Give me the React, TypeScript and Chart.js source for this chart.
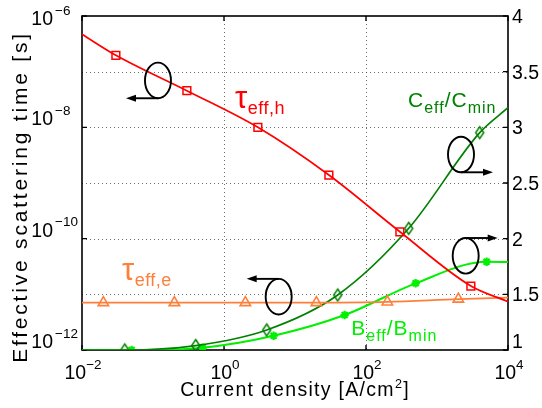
import React, { useEffect, useRef } from 'react';
import { Chart, registerables } from 'chart.js';
Chart.register(...registerables);

// ---- axis extents & ticks ----
const xRange = [1e-2, 1e4];
const leftRange = [1e-12, 1e-6];
const rightRange = [1, 4];
const xTickExponents = [-2, 0, 2, 4];
const leftTickExponents = [-12, -10, -8, -6];
const rightTickValues = [1, 1.5, 2, 2.5, 3, 3.5, 4];
const rightTickLabels = ['1', '1.5', '2', '2.5', '3', '3.5', '4'];
const xTitle = ['Current density [A/cm', '2', ']'];
const yTitle = 'Effective scattering time [s]';

// ---- tau_eff,h (left axis) ----
const tauHX = [0.01, 0.03, 0.3, 3, 30, 300, 3000, 10000];
const tauHY = [4.7e-7, 1.97e-7, 4.55e-8, 1.0e-8, 1.39e-9, 1.33e-10, 1.41e-11, 7.4e-12];
const tauHMark = [0, 1, 1, 1, 1, 1, 1, 0];

// ---- tau_eff,e (left axis) ----
const tauEX = [0.01, 0.02, 0.2, 2, 20, 200, 2000, 10000];
const tauEY = [7.1e-12, 7.1e-12, 7.1e-12, 7.1e-12, 7.1e-12, 7.3e-12, 8.2e-12, 8.7e-12];
const tauEMark = [0, 1, 1, 1, 1, 1, 1, 0];

// ---- C_eff/C_min (right axis) ----
const cRatioX = [0.01, 0.04, 0.4, 4, 40, 400, 4000, 10000];
const cRatioY = [1.0, 1.0, 1.04, 1.18, 1.494, 2.093, 2.952, 3.176];
const cRatioMark = [0, 1, 1, 1, 1, 1, 1, 0];

// ---- B_eff/B_min (right axis) ----
const bRatioX = [0.01, 0.05, 0.5, 5, 50, 500, 5000, 10000];
const bRatioY = [1.0, 1.0, 1.021, 1.128, 1.314, 1.599, 1.793, 1.79];
const bRatioMark = [0, 1, 1, 1, 1, 1, 1, 0];

const RED = '#ff0000';
const ORANGE = '#ff7f3a';
const DGREEN = '#008000';
const LGREEN = '#00f000';
const FONT = '"Liberation Sans", Arial, sans-serif';

type Run = { t: string; size: number; dy?: number };

function runsWidth(ctx: CanvasRenderingContext2D, runs: Run[], spacing: number) {
  let w = 0;
  for (const r of runs) {
    ctx.font = `${r.size}px ${FONT}`;
    (ctx as any).letterSpacing = `${spacing}px`;
    w += ctx.measureText(r.t).width;
  }
  return w;
}

function drawRuns(ctx: CanvasRenderingContext2D, runs: Run[], x: number, y: number, align: string, color: string, spacing = 0) {
  const w = runsWidth(ctx, runs, spacing);
  let cx = align === 'center' ? x - w / 2 : align === 'right' ? x - w : x;
  ctx.fillStyle = color;
  ctx.textAlign = 'left';
  ctx.textBaseline = 'alphabetic';
  for (const r of runs) {
    ctx.font = `${r.size}px ${FONT}`;
    (ctx as any).letterSpacing = `${spacing}px`;
    ctx.fillText(r.t, cx, y + (r.dy || 0));
    cx += ctx.measureText(r.t).width;
  }
  (ctx as any).letterSpacing = '0px';
}

function makeDiamond(color: string, w: number, h: number, lw: number) {
  const c = document.createElement('canvas');
  c.width = Math.ceil(w + lw * 2 + 2);
  c.height = Math.ceil(h + lw * 2 + 2);
  const g = c.getContext('2d')!;
  g.strokeStyle = color;
  g.lineWidth = lw;
  const cx = c.width / 2, cy = c.height / 2;
  g.beginPath();
  g.moveTo(cx, cy - h / 2);
  g.lineTo(cx + w / 2, cy);
  g.lineTo(cx, cy + h / 2);
  g.lineTo(cx - w / 2, cy);
  g.closePath();
  g.stroke();
  return c;
}

function series(xs: number[], ys: number[]) {
  return xs.map((x, i) => ({ x, y: ys[i] }));
}

const decor = {
  id: 'matlabDecor',
  beforeDatasetsDraw(chart: any) {
    const { ctx, chartArea: a, scales } = chart;
    const xs = scales.x, yl = scales.yL, yr = scales.yR;
    ctx.save();
    // dotted grid
    ctx.strokeStyle = 'rgba(60,60,60,0.75)';
    ctx.lineWidth = 1;
    ctx.setLineDash([1, 3]);
    for (const e of xTickExponents) {
      const px = Math.round(xs.getPixelForValue(Math.pow(10, e))) + 0.5;
      if (px <= a.left + 1 || px >= a.right - 1) continue;
      ctx.beginPath(); ctx.moveTo(px, a.top); ctx.lineTo(px, a.bottom); ctx.stroke();
    }
    for (const v of rightTickValues) {
      const py = Math.round(yr.getPixelForValue(v)) + 0.5;
      if (py <= a.top + 1 || py >= a.bottom - 1) continue;
      ctx.beginPath(); ctx.moveTo(a.left, py); ctx.lineTo(a.right, py); ctx.stroke();
    }
    ctx.setLineDash([]);
    // box
    ctx.strokeStyle = '#000';
    ctx.lineWidth = 1.6;
    ctx.strokeRect(a.left, a.top, a.right - a.left, a.bottom - a.top);
    // inward ticks
    const tl = 5;
    ctx.lineWidth = 1.4;
    ctx.beginPath();
    for (const e of xTickExponents) {
      const px = xs.getPixelForValue(Math.pow(10, e));
      ctx.moveTo(px, a.bottom); ctx.lineTo(px, a.bottom - tl);
      ctx.moveTo(px, a.top); ctx.lineTo(px, a.top + tl);
    }
    for (const e of leftTickExponents) {
      const py = yl.getPixelForValue(Math.pow(10, e));
      ctx.moveTo(a.left, py); ctx.lineTo(a.left + tl, py);
    }
    for (const v of rightTickValues) {
      const py = yr.getPixelForValue(v);
      ctx.moveTo(a.right, py); ctx.lineTo(a.right - tl, py);
    }
    ctx.stroke();
    ctx.restore();
  },
  afterDraw(chart: any) {
    const { ctx, chartArea: a, scales } = chart;
    const xs = scales.x, yl = scales.yL, yr = scales.yR;
    ctx.save();
    const base = 19.5, sup = 13.5, raise = 10.5;
    // x tick labels
    for (const e of xTickExponents) {
      const px = xs.getPixelForValue(Math.pow(10, e));
      drawRuns(ctx, [{ t: '10', size: base }, { t: String(e).replace('-', '\u2212'), size: sup, dy: -raise }], px + 1, a.bottom + 29, 'center', '#000');
    }
    // left tick labels: "10" right-aligned, exponent after
    for (const e of leftTickExponents) {
      const py = yl.getPixelForValue(Math.pow(10, e));
      const bl = Math.max(py - 2, 25);
      drawRuns(ctx, [{ t: '10', size: base }], a.left - 29, bl, 'right', '#000');
      drawRuns(ctx, [{ t: String(e).replace('-', '\u2212'), size: sup }], a.left - 27, bl - raise, 'left', '#000');
    }
    // right tick labels
    rightTickValues.forEach((v, i) => {
      const py = yr.getPixelForValue(v);
      const bl = Math.min(py + 7, a.bottom - 2);
      drawRuns(ctx, [{ t: rightTickLabels[i], size: base }], a.right + 4, bl, 'left', '#000');
    });
    // axis titles
    drawRuns(ctx, [{ t: xTitle[0], size: 19.5 }, { t: xTitle[1], size: 12.5, dy: -8 }, { t: xTitle[2], size: 19.5 }], (a.left + a.right) / 2, a.bottom + 46, 'center', '#000', 1.3);
    ctx.save();
    ctx.translate(27, (a.top + a.bottom) / 2 + 14);
    ctx.rotate(-Math.PI / 2);
    drawRuns(ctx, [{ t: yTitle, size: 21 }, ], 0, 0, 'center', '#000', 2.8);
    ctx.restore();

    // curve annotations (placed in data coordinates: x value, right-axis value)
    const P = (xv: number, yv: number) => [xs.getPixelForValue(xv), yr.getPixelForValue(yv)];
    let p = P(1.43, 3.174);
    drawRuns(ctx, [{ t: '\u03c4', size: 31 }, { t: 'eff,h', size: 18, dy: 6 }], p[0], p[1], 'left', RED, 0.5);
    p = P(391, 3.183);
    drawRuns(ctx, [{ t: 'C', size: 21 }, { t: 'eff', size: 16, dy: 6 }, { t: '/C', size: 21 }, { t: 'min', size: 16, dy: 6 }], p[0], p[1], 'left', DGREEN, 1);
    p = P(0.0365, 1.629);
    drawRuns(ctx, [{ t: '\u03c4', size: 31 }, { t: 'eff,e', size: 18, dy: 6 }], p[0], p[1], 'left', ORANGE, 0.5);
    p = P(62, 1.135);
    drawRuns(ctx, [{ t: 'B', size: 21 }, { t: 'eff', size: 16, dy: 6 }, { t: '/B', size: 21 }, { t: 'min', size: 16, dy: 6 }], p[0], p[1], 'left', LGREEN, 1);

    // ellipses with arrows (axis indicators)
    const loops: [number, number, number, string][] = [
      [0.1175, 3.421, -1, 'bottom'],
      [2178, 2.756, 1, 'bottom'],
      [5.89, 1.479, -1, 'top'],
      [2535, 1.846, 1, 'top'],
    ];
    ctx.strokeStyle = '#000';
    ctx.fillStyle = '#000';
    ctx.lineWidth = 1.9;
    for (const [xv, yv, dir, side] of loops) {
      const [cx, cy] = P(xv, yv);
      const rx = 13, ry = 17.8;
      ctx.beginPath();
      ctx.ellipse(cx, cy, rx, ry, 0, 0, Math.PI * 2);
      ctx.stroke();
      const ay = side === 'bottom' ? cy + ry : cy - ry;
      const tip = cx + dir * 32;
      ctx.beginPath();
      ctx.moveTo(cx, ay);
      ctx.lineTo(tip - dir * 8, ay);
      ctx.stroke();
      ctx.beginPath();
      ctx.moveTo(tip, ay);
      ctx.lineTo(tip - dir * 10, ay - 3.5);
      ctx.lineTo(tip - dir * 10, ay + 3.5);
      ctx.closePath();
      ctx.fill();
    }
    ctx.restore();
  },
};

export default function App() {
  const ref = useRef<HTMLCanvasElement | null>(null);
  useEffect(() => {
    if (!ref.current) return;
    const diamond = makeDiamond(DGREEN, 8, 12, 1.5);
    const mk = (arr: number[], r: number) => arr.map((m) => (m ? r : 0));
    const chart = new Chart(ref.current, {
      type: 'line',
      data: {
        datasets: [
          {
            data: series(tauHX, tauHY), yAxisID: 'yL', borderColor: RED, borderWidth: 1.7,
            pointStyle: 'rect', pointRadius: mk(tauHMark, 5.5), pointBorderColor: RED, pointBorderWidth: 1.5,
            pointBackgroundColor: 'rgba(0,0,0,0)', cubicInterpolationMode: 'monotone',
          },
          {
            data: series(tauEX, tauEY), yAxisID: 'yL', borderColor: ORANGE, borderWidth: 1.8,
            pointStyle: 'triangle', pointRadius: mk(tauEMark, 6), pointBorderColor: ORANGE, pointBorderWidth: 1.6,
            pointBackgroundColor: 'rgba(0,0,0,0)', cubicInterpolationMode: 'monotone',
          },
          {
            data: series(cRatioX, cRatioY), yAxisID: 'yR', borderColor: DGREEN, borderWidth: 1.7,
            pointStyle: diamond as any, pointRadius: mk(cRatioMark, 5), cubicInterpolationMode: 'monotone',
          },
          {
            data: series(bRatioX, bRatioY), yAxisID: 'yR', borderColor: LGREEN, borderWidth: 2,
            pointStyle: 'star', pointRadius: mk(bRatioMark, 4.2), pointBorderColor: LGREEN, pointBorderWidth: 2.2,
            pointBackgroundColor: LGREEN, cubicInterpolationMode: 'monotone',
          },
        ],
      },
      options: {
        animation: false,
        responsive: false,
        devicePixelRatio: 1,
        parsing: false as any,
        layout: { padding: { left: 82, right: 34, top: 16, bottom: 58 } },
        plugins: { legend: { display: false }, tooltip: { enabled: false } },
        events: [],
        scales: {
          x: { type: 'logarithmic', min: xRange[0], max: xRange[1], display: false },
          yL: { type: 'logarithmic', position: 'left', min: leftRange[0], max: leftRange[1], display: false },
          yR: { type: 'linear', position: 'right', min: rightRange[0], max: rightRange[1], display: false },
        },
      },
      plugins: [decor],
    });
    return () => chart.destroy();
  }, []);
  return (
    <div style={{ position: 'fixed', left: 0, top: 0, width: 542, height: 408, background: '#fff' }}>
      <canvas ref={ref} width={542} height={408} style={{ display: 'block', width: 542, height: 408 }} />
    </div>
  );
}
